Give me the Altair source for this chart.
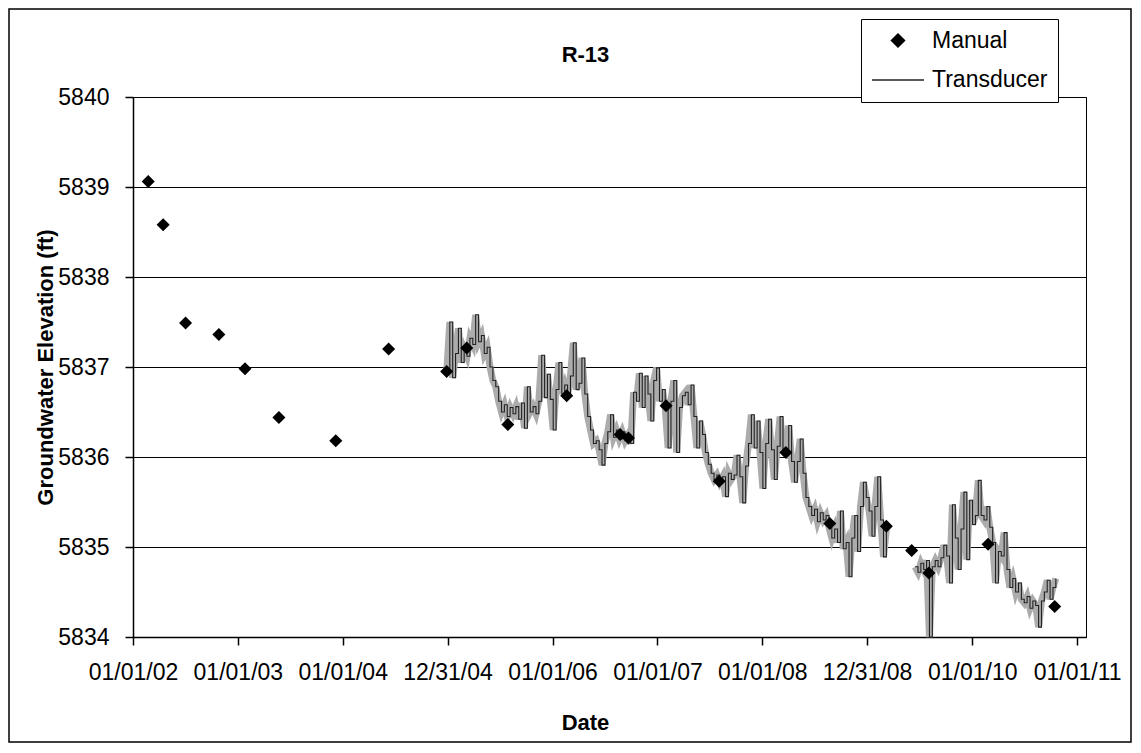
import altair as alt
import pandas as pd

FONT = "Liberation Sans"

# ---- data ----
manual_dates = [
    "2002-02-23", "2002-04-16", "2002-07-03", "2002-10-27", "2003-01-26",
    "2003-05-24", "2003-12-08", "2004-06-09", "2004-12-28", "2005-03-08",
    "2005-07-29", "2006-02-19", "2006-08-24", "2006-09-22", "2007-01-31",
    "2007-08-04", "2008-03-23", "2008-08-23", "2009-03-08", "2009-06-04",
    "2009-08-03", "2010-02-25", "2010-10-15",
]
manual_values = [
    5839.06, 5838.58, 5837.49, 5837.36, 5836.98,
    5836.44, 5836.18, 5837.20, 5836.95, 5837.21,
    5836.36, 5836.68, 5836.25, 5836.21, 5836.57,
    5835.73, 5836.05, 5835.26, 5835.23, 5834.96,
    5834.71, 5835.03, 5834.34,
]

# transducer record: one reading every 10 days from the start date (None = no data)
transducer_start = "2004-12-29"
transducer_step = "10D"
transducer_values = [
    5836.98, 5837.50, 5836.88, 5837.15, 5837.43, 5837.05, 5837.20, 5837.12, 5837.32, 5837.25,
    5837.58, 5837.28, 5837.35, 5837.15, 5837.22, 5837.00, 5836.85, 5836.78, 5836.62, 5836.50,
    5836.58, 5836.45, 5836.55, 5836.48, 5836.56, 5836.42, 5836.60, 5836.32, 5836.78, 5836.50,
    5836.56, 5836.48, 5836.62, 5837.13, 5836.66, 5836.92, 5836.64, 5836.30, 5836.75, 5837.05,
    5836.70, 5836.80, 5836.68, 5836.90, 5837.27, 5836.75, 5836.82, 5837.10, 5836.70, 5836.45,
    5836.30, 5836.15, 5836.18, 5836.08, 5835.91, 5836.15, 5836.28, 5836.47, 5836.22, 5836.30,
    5836.20, 5836.28, 5836.18, 5836.24, 5836.15, 5836.72, 5836.62, 5836.93, 5836.55, 5836.90,
    5836.70, 5836.40, 5836.85, 5836.99, 5836.62, 5836.75, 5836.55, 5836.10, 5836.62, 5836.85,
    5836.05, 5836.55, 5836.68, 5836.72, 5836.58, 5836.80, 5836.45, 5836.10, 5836.40, 5836.25,
    5836.05, 5835.92, 5835.82, 5835.75, 5835.80, 5835.72, 5835.78, 5835.56, 5835.82, 5835.75,
    5835.80, 5836.02, 5835.78, 5835.49, 5835.90, 5836.15, 5836.47, 5836.10, 5836.40, 5836.05,
    5835.65, 5836.15, 5836.42, 5836.08, 5835.75, 5836.12, 5836.45, 5836.08, 5836.05, 5836.35,
    5835.95, 5835.72, 5835.95, 5836.20, 5835.82, 5835.55, 5835.45, 5835.35, 5835.42, 5835.28,
    5835.38, 5835.30, 5835.35, 5835.22, 5835.10, 5835.20, 5835.05, 5835.40, 5834.98, 5835.05,
    5834.67, 5835.10, 5835.35, 5834.95, 5835.45, 5835.72, 5835.55, 5835.40, 5835.12, 5835.45,
    5835.78, 5835.30, 5834.89, 5835.20,
    None, None, None, None, None, None, None, None, None,
    5834.78, 5834.72, 5834.82, 5834.75, 5834.85, 5834.00, 5834.78, 5834.85, 5834.78, 5834.88,
    5835.02, 5834.90, 5834.60, 5835.47, 5835.10, 5834.75, 5835.20, 5835.61, 5834.86, 5835.52,
    5835.25, 5835.35, 5835.74, 5835.35, 5835.30, 5835.45, 5835.22, 5835.05, 5834.60, 5834.95,
    5834.90, 5835.16, 5834.75, 5834.55, 5834.65, 5834.50, 5834.60, 5834.42, 5834.38, 5834.45,
    5834.32, 5834.40, 5834.35, 5834.11, 5834.40, 5834.50, 5834.63, 5834.42, 5834.55, 5834.65,
]

series_names = ["Manual", "Transducer"]
x_tick_dates = [(2002, 1, 1), (2003, 1, 1), (2004, 1, 1), (2004, 12, 31), (2006, 1, 1),
                (2007, 1, 1), (2008, 1, 1), (2008, 12, 31), (2010, 1, 1), (2011, 1, 1)]
x_domain = [(2002, 1, 1), (2011, 2, 1)]
y_ticks = [5834, 5835, 5836, 5837, 5838, 5839, 5840]

# ---- tables ----
manual = pd.DataFrame({"date": manual_dates, "elev": manual_values, "series": "Manual"})
tdates = pd.date_range(transducer_start, periods=len(transducer_values), freq=transducer_step)
trans = pd.DataFrame({"date": tdates.strftime("%Y-%m-%d"), "elev": transducer_values,
                      "series": "Transducer"})
trans["seg"] = trans["elev"].isna().cumsum()
trans = trans.dropna().reset_index(drop=True)


def dt(t):
    return alt.DateTime(year=t[0], month=t[1], date=t[2], utc=True)


x_enc = alt.X(
    "date:T",
    scale=alt.Scale(type="utc", domain=[dt(t) for t in x_domain]),
    axis=alt.Axis(
        values=[dt(t) for t in x_tick_dates], format="%m/%d/%y", title="Date",
        grid=False, tickSize=8, labelPadding=16, labelOverlap=False, labelFlush=False,
        titleX=452, titleY=85, titleAlign="center", titleBaseline="middle",
    ),
)
y_enc = alt.Y(
    "elev:Q",
    scale=alt.Scale(domain=[5834, 5840], nice=False, zero=False),
    axis=alt.Axis(
        values=y_ticks, format="d", title="Groundwater Elevation (ft)",
        grid=True, tickSize=8, labelPadding=16,
        titleX=-88, titleY=270, titleAlign="center", titleBaseline="middle", titleAngle=-90,
    ),
)

legend = alt.Legend(
    title=None, orient="none", legendX=728, legendY=-78,
    strokeColor="black", fillColor="white", padding=10,
    labelFontSize=23, labelFont=FONT, labelColor="black", labelOffset=7,
    rowPadding=0, symbolStrokeColor="#333333", symbolStrokeWidth=1.5,
)
color_enc = alt.Color(
    "series:N",
    scale=alt.Scale(domain=series_names, range=["#000000", "#222222"]),
    legend=legend,
)

band = alt.Chart(trans).mark_line(color="#acacac", strokeWidth=7).encode(
    x=x_enc, y=y_enc, detail="seg:N"
)
line = alt.Chart(trans).mark_line(strokeWidth=1.1, interpolate="step-after").encode(
    x=x_enc, y=y_enc, color=color_enc, detail="seg:N"
)
points = alt.Chart(manual).mark_point(filled=True, opacity=1).encode(
    x=x_enc, y=y_enc, color=color_enc,
    shape=alt.Shape("series:N", scale=alt.Scale(domain=series_names, range=["diamond", "stroke"]),
                    legend=legend),
    size=alt.Size("series:O", scale=alt.Scale(domain=series_names, range=[170, 2704]),
                  legend=legend),
)
frame = alt.Chart(pd.DataFrame({"k": [0]})).mark_rect(
    filled=False, stroke="black", strokeWidth=1.5
).encode(x=alt.value(-124), x2=alt.value(998), y=alt.value(-88), y2=alt.value(645))

chart = alt.layer(band, line, points, frame).properties(
    width=953, height=540,
    title=alt.TitleParams("R-13", fontSize=22, font=FONT, fontWeight="bold", color="black",
                          anchor="middle", dx=-24, offset=-59),
    autosize=alt.AutoSizeParams(type="none"),
    padding={"left": 125, "top": 89, "right": 47, "bottom": 106},
    background="white",
).configure_view(
    stroke="black", strokeWidth=1
).configure_axis(
    labelFont=FONT, labelFontSize=23, labelColor="black",
    titleFont=FONT, titleFontSize=22, titleFontWeight="bold", titleColor="black",
    domainColor="black", tickColor="black", gridColor="black", gridWidth=1.2,
    gridOpacity=1, domainWidth=1.5, tickWidth=1.5,
)

chart.save("out.html", embed_options={"renderer": "svg", "actions": False})
